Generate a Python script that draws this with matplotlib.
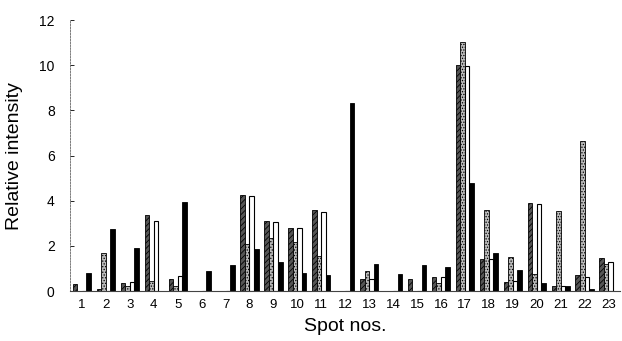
import numpy as np
import matplotlib
matplotlib.use('Agg')
import matplotlib.pyplot as plt

plt.rcParams['font.family'] = ['Liberation Sans', 'DejaVu Sans']
plt.rcParams['hatch.linewidth'] = 0.6

spots = [str(n) for n in range(1, 24)]

# four series per spot
dark_hatch = [0.3, 0.1, 0.35, 3.35, 0.55, 0, 0, 4.25, 3.1, 2.8, 3.6, 0,
              0.55, 0, 0.55, 0.6, 10.0, 1.4, 0.4, 3.9, 0.2, 0.7, 1.45]
light_hatch = [0, 1.7, 0.2, 0.45, 0.2, 0, 0, 2.1, 2.35, 2.15, 1.55, 0,
               0.9, 0, 0, 0.35, 11.05, 3.6, 1.5, 0.75, 3.55, 6.65, 1.2]
white = [0, 0, 0.4, 3.1, 0.65, 0, 0, 4.2, 3.05, 2.8, 3.5, 0,
         0.55, 0, 0, 0.6, 9.95, 1.4, 0.45, 3.85, 0.2, 0.6, 1.3]
black = [0.8, 2.75, 1.9, 0, 3.95, 0.9, 1.15, 1.85, 1.3, 0.8, 0.7, 8.35,
         1.2, 0.75, 1.15, 1.05, 4.8, 1.7, 0.95, 0.35, 0.2, 0.1, 0]

x = np.arange(len(spots))
w = 0.19

fig = plt.figure(figsize=(6.22, 3.41), dpi=100)
ax = fig.add_axes([0.1125, 0.1466, 0.885, 0.7944])

ax.bar(x - 1.5 * w, dark_hatch, w, facecolor='#555555', edgecolor='black',
       hatch='//////', linewidth=0.6)
ax.bar(x - 0.5 * w, light_hatch, w, facecolor='#bbbbbb', edgecolor='black',
       hatch='......', linewidth=0.6)
ax.bar(x + 0.5 * w, white, w, facecolor='white', edgecolor='black', linewidth=0.8)
ax.bar(x + 1.5 * w, black, w, facecolor='black', edgecolor='black', linewidth=0.6)

ax.set_xlim(-0.5, len(spots) - 0.5)
ax.set_ylim(0, 12)
ax.set_yticks(range(0, 13, 2))
ax.set_xticks(x)
ax.set_xticklabels(spots, fontsize=9.5)
ax.tick_params(axis='y', direction='in', length=3, width=0.6, labelsize=10, pad=11)
ax.tick_params(axis='x', length=0, pad=6)

for side in ['top', 'right']:
    ax.spines[side].set_visible(False)
ax.spines['left'].set_linestyle((0, (2, 1.5)))
ax.spines['left'].set_color('#666666')
ax.spines['left'].set_linewidth(0.6)
ax.spines['bottom'].set_linestyle((0, (1, 1)))
ax.spines['bottom'].set_color('#444444')
ax.spines['bottom'].set_linewidth(0.8)

ax.set_ylabel('Relative intensity', fontsize=14, labelpad=12)
ax.set_xlabel('Spot nos.', fontsize=14, labelpad=5)

plt.savefig('out.png', dpi=100)
